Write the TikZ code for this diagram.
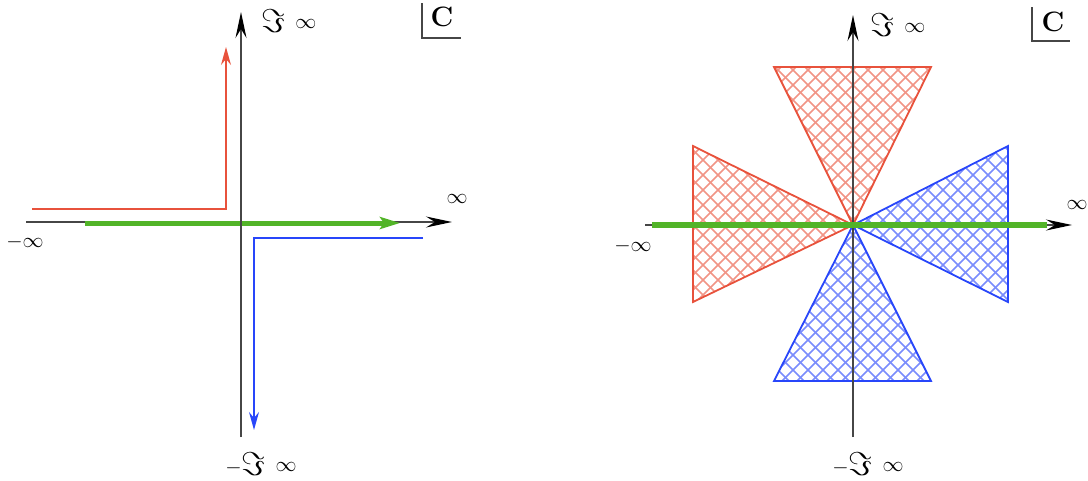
\RequirePackage{fix-cm}
\documentclass[tikz,border=0pt]{standalone}
\usetikzlibrary{arrows.meta}
\definecolor{cred}{RGB}{232,82,60}
\definecolor{cblue}{RGB}{40,70,250}
\definecolor{cgreen}{RGB}{82,180,40}
\definecolor{caxis}{RGB}{70,70,70}
\newcommand\bigfs{\fontsize{33}{33}\selectfont}
\newcommand\infs{\fontsize{21}{21}\selectfont}
\newcommand\imlab{{\bigfs$\Im$}\hspace{10pt}\raisebox{4pt}{\infs$\infty$}}
\newcommand\mimlab{\raisebox{2pt}{\infs$-$}{\bigfs$\Im$}\hspace{10pt}\raisebox{4pt}{\infs$\infty$}}
\newcommand\hatchtri[4]{%
  \begin{scope}
    \clip #2 -- #3 -- #4 -- cycle;
    \foreach \c in {8,23,...,1600} {\draw[hatchline,#1!62] (\c,0) -- ++(-480,480);}
    \foreach \c in {3,18,...,1600} {\draw[hatchline,#1!62] (\c-480,0) -- ++(480,480);}
  \end{scope}
  \draw[triedge,#1] #2 -- #3 -- #4 -- cycle;
}
\tikzset{
  axisline/.style={caxis, line width=1.4pt, -{Stealth[length=26pt,width=11pt,inset=9pt,color=black]}},
  greenpath/.style={cgreen, line width=5pt},
  redpath/.style={cred, line width=1.5pt, -{Stealth[length=18pt,width=10pt,inset=6pt]}},
  bluepath/.style={cblue, line width=1.5pt, -{Stealth[length=18pt,width=10pt,inset=6pt]}},
  hatchline/.style={line width=1.6pt},
  triedge/.style={line width=1.8pt, line join=miter},
  lab/.style={inner sep=0pt, text=black},
  cornerline/.style={caxis, line width=1.4pt}
}
\begin{document}
\begin{tikzpicture}[x=1pt,y=-1pt]
\useasboundingbox (0,0) rectangle (1088,480);
% ---------------- left panel ----------------
\coordinate (Lxl) at (26,222);
\coordinate (Lxr) at (452,222);
\coordinate (Lyb) at (241,437);
\coordinate (Lyt) at (241,12);
\coordinate (Lgs) at (85,223);
\coordinate (Lge) at (400,223);
\coordinate (Lr0) at (32,209);
\coordinate (Lr1) at (226,209);
\coordinate (Lr2) at (226,47);
\coordinate (Lb0) at (423,238);
\coordinate (Lb1) at (254,238);
\coordinate (Lb2) at (254,430);
\draw[axisline] (Lxl) -- (Lxr);
\draw[greenpath, -{Stealth[length=20pt,width=12pt,inset=4pt]}] (Lgs) -- (Lge);
\draw[axisline] (Lyb) -- (Lyt);
\draw[redpath] (Lr0) -- (Lr1) -- (Lr2);
\draw[bluepath] (Lb0) -- (Lb1) -- (Lb2);
\node[lab] (Ltop) at (289,21) {\imlab};
\node[lab] (Lbot) at (261,464) {\mimlab};
\node[lab] (Lpinf) at (457,199) {\infs$\infty$};
\node[lab] (Lminf) at (25,242) {\infs$-\infty$};
\node[lab] (LC) at (442,17) {\fontsize{28}{28}\selectfont$\mathbf{C}$};
\coordinate (Lc0) at (422,3);
\coordinate (Lc1) at (422,38);
\coordinate (Lc2) at (461,38);
\draw[cornerline] (Lc0) -- (Lc1) -- (Lc2);
% ---------------- right panel ----------------
\coordinate (O) at (853,225);
\coordinate (Tul) at (774,67);
\coordinate (Tur) at (931,67);
\coordinate (Tlt) at (693,146);
\coordinate (Tlb) at (693,302);
\coordinate (Trt) at (1008,146);
\coordinate (Trb) at (1008,302);
\coordinate (Tbl) at (774,381);
\coordinate (Tbr) at (931,381);
\hatchtri{cred}{(Tul)}{(Tur)}{(O)}
\hatchtri{cred}{(Tlt)}{(Tlb)}{(O)}
\hatchtri{cblue}{(Trt)}{(Trb)}{(O)}
\hatchtri{cblue}{(Tbl)}{(Tbr)}{(O)}
\coordinate (Rxl) at (645,225);
\coordinate (Rxr) at (1072,225);
\coordinate (Ryb) at (853,437);
\coordinate (Ryt) at (853,15);
\coordinate (Rgs) at (652,225);
\coordinate (Rge) at (1047,225);
\draw[axisline] (Ryb) -- (Ryt);
\draw[axisline] (Rxl) -- (Rxr);
\draw[greenpath, line width=5.5pt] (Rgs) -- (Rge);
\node[lab] (Rtop) at (898,25) {\imlab};
\node[lab] (Rbot) at (868,464) {\mimlab};
\node[lab] (Rpinf) at (1077,205) {\infs$\infty$};
\node[lab] (Rminf) at (633,246) {\infs$-\infty$};
\node[lab] (RC) at (1053,22) {\fontsize{28}{28}\selectfont$\mathbf{C}$};
\coordinate (Rc0) at (1032,7);
\coordinate (Rc1) at (1032,41);
\coordinate (Rc2) at (1070,41);
\draw[cornerline] (Rc0) -- (Rc1) -- (Rc2);
\end{tikzpicture}
\end{document}
